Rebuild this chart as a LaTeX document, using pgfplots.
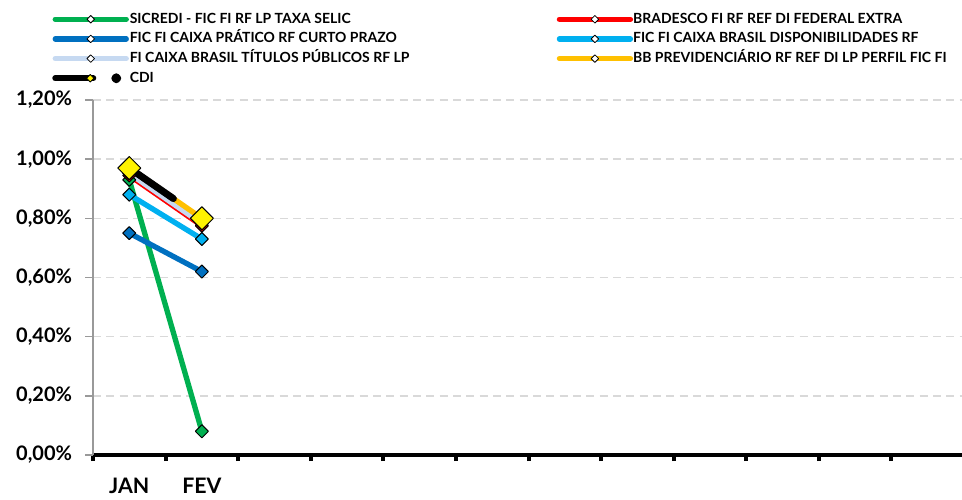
\documentclass[border=0pt]{standalone}
\usepackage{fontspec}
\setmainfont{Lato}
\usepackage{pgfplots}
\pgfplotsset{compat=1.18}
\definecolor{xgreen}{HTML}{00B050}
\definecolor{xred}{HTML}{FF0000}
\definecolor{xdblue}{HTML}{0070C0}
\definecolor{xlblue}{HTML}{00B0F0}
\definecolor{xpale}{HTML}{C6D9F1}
\definecolor{xorange}{HTML}{FFC000}
\definecolor{xgrid}{HTML}{D9D9D9}
\pgfplotsset{
  ser/.style={color=#1, line width=4pt, line cap=round, line join=round,
    mark=square*, mark size=3.45pt,
    mark options={solid, rotate=45, draw=black, fill=#1, line width=0.75pt, shorten >=0pt}},
}
\begin{document}
\begin{tikzpicture}
\useasboundingbox (-69.75pt,-33pt) rectangle (651.75pt,341.25pt);
\begin{axis}[
  at={(0,0)}, anchor=south west,
  scale only axis, width=653.25pt, height=266.25pt,
  xmin=-0.5, xmax=11.5, ymin=0, ymax=1.2,
  axis x line*=bottom, axis y line*=left,
  x axis line style={-, black, line width=3pt},
  y axis line style={-, gray!80, line width=1.1pt},
  tick align=outside,
  xtick={0,...,11},
  xticklabels={JAN,FEV,,,,,,,,,,},
  major x tick style={draw=none},
  minor xtick={-0.5,0.5,...,11.5},
  minor x tick style={black, line width=3pt},
  minor tick length=4.5pt,
  ytick={0,0.2,0.4,0.6,0.8,1,1.2},
  yticklabels={{0,00\%},{0,20\%},{0,40\%},{0,60\%},{0,80\%},{1,00\%},{1,20\%}},
  major y tick style={gray!80, line width=1.1pt},
  major tick length=6pt,
  ymajorgrids,
  y grid style={xgrid, line width=1.1pt, dash pattern=on 6pt off 4pt},
  yticklabel style={font=\fontsize{15}{15}\selectfont\bfseries,
    anchor=east, inner xsep=0pt, xshift=-9.5pt},
  xticklabel style={font=\fontsize{16}{16}\selectfont\bfseries,
    yshift=-8pt},
  legend columns=2,
  legend style={at={(0,1)}, anchor=north west, xshift=-30.75pt, yshift=65.75pt,
    draw=none, fill=none, inner sep=0pt, row sep=4.75pt,
    font=\fontsize{10.5}{12}\selectfont\bfseries,
    nodes={inner sep=0pt, text height=8pt, text depth=2pt},
    cells={anchor=west},
    /tikz/every odd column/.append style={column sep=0pt}},
  legend image code/.code={
    \draw[#1, mark=none] (0pt,0pt) -- (53.25pt,0pt);
    \draw[#1, mark options={solid, rotate=45, draw=black, fill=white, line width=0.6pt}, mark size=2pt] plot coordinates {(26.6pt,0pt)};
  },
]
\addplot[ser=xgreen] coordinates {(0,0.93) (1,0.08)};
\addlegendentry{\makebox[320.25pt][l]{SICREDI - FIC FI RF LP TAXA SELIC}}
\addplot[ser=xred] coordinates {(0,0.945) (1,0.775)};
\addlegendentry{BRADESCO FI RF REF DI FEDERAL EXTRA}
\addplot[ser=xdblue] coordinates {(0,0.75) (1,0.62)};
\addlegendentry{\makebox[320.25pt][l]{FIC FI CAIXA PRÁTICO RF CURTO PRAZO}}
\addplot[ser=xlblue] coordinates {(0,0.88) (1,0.73)};
\addlegendentry{FIC FI CAIXA BRASIL DISPONIBILIDADES RF}
\addplot[ser=xpale] coordinates {(0,0.952) (1,0.782)};
\addlegendentry{\makebox[320.25pt][l]{FI CAIXA BRASIL TÍTULOS PÚBLICOS RF LP}}
\addplot[ser=xorange] coordinates {(0,0.97) (1,0.80)};
\addlegendentry{BB PREVIDENCIÁRIO RF REF DI LP PERFIL FIC FI}
\addplot[ser=black, line width=5.25pt, shorten >=26pt, mark size=6.1pt,
  mark options={solid, rotate=45, draw=black, fill=yellow, line width=0.75pt, shorten >=0pt},
  legend image code/.code={
    \draw[black, line width=4.5pt, line cap=round, shorten >=0pt] (0pt,0pt) -- (28.5pt,0pt);
    \draw[mark=square*, mark size=2pt, mark options={solid, rotate=45, fill=yellow, draw=black, line width=0.6pt, shorten >=0pt}] plot coordinates {(26.25pt,0pt)};
    \fill[black] (45.75pt,0pt) circle (1.1pt);
    \path (53.25pt,0pt);
  }] coordinates {(0,0.97) (1,0.80)};
\addlegendentry{CDI}
\end{axis}
\end{tikzpicture}
\end{document}
